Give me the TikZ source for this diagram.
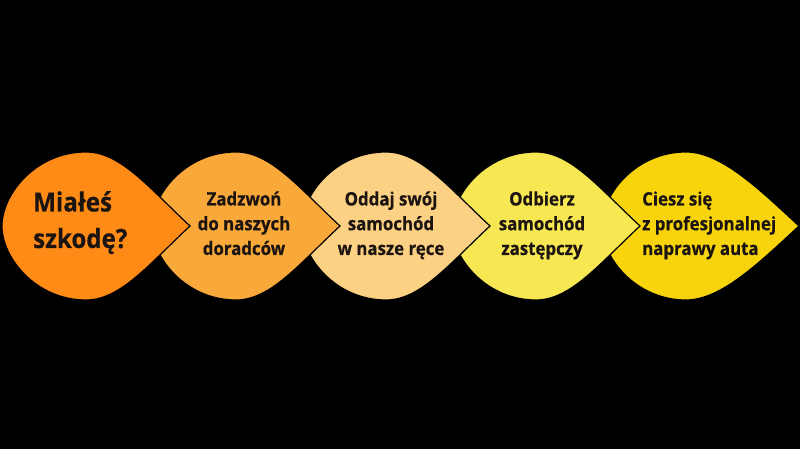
\documentclass[tikz,border=0pt]{standalone}
\usepackage{fontspec}
\newfontfamily\dropfont{Open Sans}[FakeStretch=0.91, BoldFeatures={FakeBold=0.5}]
\definecolor{cA}{HTML}{FF8B17}
\definecolor{cB}{HTML}{F9A83A}
\definecolor{cC}{HTML}{FDD183}
\definecolor{cD}{HTML}{F7E752}
\definecolor{cE}{HTML}{F8D40C}
\definecolor{txt}{HTML}{1C1410}
% #1 centre x, #2 tip length, #3 colour
\newcommand\teardrop[3]{%
  \path[dropline, fill=#3, shift={(#1,223)}]
    (-84,0) .. controls (-84,32) and (-50,74) .. (0,74)
    .. controls (35,74) and ({#2-40},37) .. (#2,0)
    .. controls ({#2-40},-37) and (35,-74) .. (0,-74)
    .. controls (-50,-74) and (-84,-32) .. cycle;}
\begin{document}
\begin{tikzpicture}[x=1pt,y=1pt,
  dropline/.style={draw=black, line width=1.2pt, line join=miter},
  smalltxt/.style={font=\dropfont\bfseries\fontsize{18.5}{24.75}\selectfont, text=txt, inner sep=0pt, align=center, anchor=base},
  lefttxt/.style={font=\dropfont\bfseries\fontsize{18.5}{24.75}\selectfont, text=txt, inner sep=0pt, align=left, anchor=base west},
  bigtxt/.style={font=\dropfont\bfseries\fontsize{26.5}{36.5}\selectfont, text=txt, inner sep=0pt, align=left, anchor=base west}]
\fill[black] (0,0) rectangle (800,449);
\useasboundingbox (0,0) rectangle (800,449);
\teardrop{686}{113}{cE}
\teardrop{536}{104}{cD}
\teardrop{386}{104}{cC}
\teardrop{236}{104}{cB}
\teardrop{86}{104}{cA}
\node[bigtxt] (t1) at (33,201) {Miałeś\\szkodę?};
\node[smalltxt] (t2) at (244,194) {Zadzwoń\\do naszych\\doradców};
\node[smalltxt] (t3) at (391,194) {Oddaj swój\\samochód\\w nasze ręce};
\node[smalltxt] (t4) at (542,194) {Odbierz\\samochód\\zastępczy};
\node[lefttxt] (t5) at (642,194) {Ciesz się\\z profesjonalnej\\naprawy auta};
\end{tikzpicture}
\end{document}
